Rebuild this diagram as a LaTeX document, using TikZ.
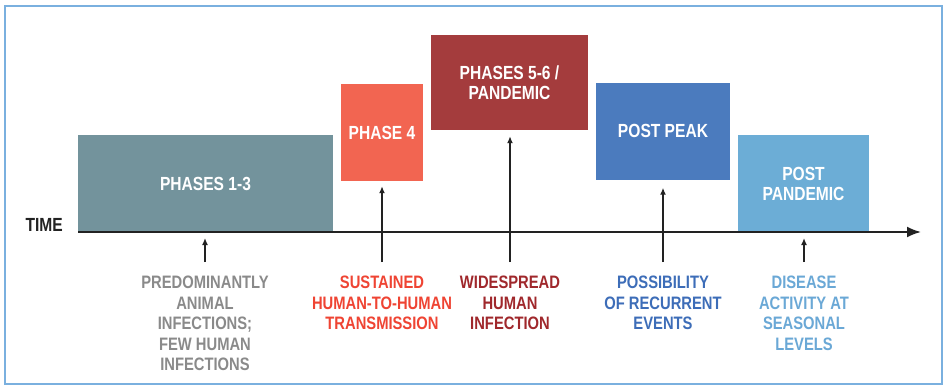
\documentclass[tikz,border=0pt]{standalone}
\usepackage{fontspec}
\setmainfont{Liberation Sans}[FakeStretch=0.82]
\usetikzlibrary{arrows.meta}
\definecolor{cteal}{HTML}{73939C}
\definecolor{cphfour}{HTML}{F26551}
\definecolor{cpand}{HTML}{A43C3D}
\definecolor{cpeak}{HTML}{4B7BBE}
\definecolor{cpost}{HTML}{6CADD6}
\definecolor{lgray}{HTML}{8A8A8A}
\definecolor{lred}{HTML}{EF4433}
\definecolor{ldred}{HTML}{A0282C}
\definecolor{lblue}{HTML}{3D6DB8}
\definecolor{llblue}{HTML}{6AA8D6}
\definecolor{cframe}{HTML}{7AB0DF}
\definecolor{cink}{HTML}{222222}
\begin{document}
\begin{tikzpicture}[x=1pt,y=-1pt,
  phasebox/.style={fill=#1, draw=none, text=white, inner sep=0pt, align=center,
     font=\fontsize{19}{20}\selectfont\bfseries},
  lab/.style={text=#1, anchor=north, inner sep=0pt, align=center,
     font=\fontsize{18}{20.5}\selectfont\bfseries},
  arr/.style={draw=cink, line width=1.8pt, -{Latex[length=7pt,width=6pt]}},
]
\useasboundingbox (0,0) rectangle (945,386);
\fill[white] (0,0) rectangle (945,386);
\draw[cframe, line width=2pt] (5,6) rectangle (942,384);

% boxes
\node[phasebox=cteal, minimum width=255pt, minimum height=97pt] (p13) at (205.5,183.5) {PHASES 1-3};
\node[phasebox=cphfour, minimum width=82pt, minimum height=97pt] (p4) at (382,132.5) {PHASE 4};
\node[phasebox=cpand, minimum width=157pt, minimum height=95pt] (p56) at (509.5,82.5) {PHASES 5-6 /\\PANDEMIC};
\node[phasebox=cpeak, minimum width=134pt, minimum height=97pt] (pk) at (663,131) {POST PEAK};
\node[phasebox=cpost, minimum width=131pt, minimum height=97pt] (pp) at (803.5,183.5) {POST\\PANDEMIC};

% time axis
\node[text=cink, anchor=east, inner sep=0pt, font=\fontsize{19}{20}\selectfont\bfseries] (time) at (63,225) {TIME};
\coordinate (ax0) at (78,232);
\coordinate (ax1) at (921,232);
\draw[cink, line width=2pt, -{Latex[length=14pt,width=11pt]}] (ax0) -- (ax1);

% labels
\node[lab=lgray] (l13) at (205,276) {PREDOMINANTLY\\ANIMAL\\INFECTIONS;\\FEW HUMAN\\INFECTIONS};
\node[lab=lred] (l4) at (382,276) {SUSTAINED\\HUMAN-TO-HUMAN\\TRANSMISSION};
\node[lab=ldred] (l56) at (510,276) {WIDESPREAD\\HUMAN\\INFECTION};
\node[lab=lblue] (lpk) at (663,276) {POSSIBILITY\\OF RECURRENT\\EVENTS};
\node[lab=llblue] (lpp) at (804,276) {DISEASE\\ACTIVITY AT\\SEASONAL\\LEVELS};

% arrows
\coordinate (a13) at (205,262);
\coordinate (t13) at (205,238);
\coordinate (a4) at (382,262);
\coordinate (a56) at (510,262);
\coordinate (apk) at (663,262);
\coordinate (app) at (804,262);
\coordinate (tpp) at (804,238);
\draw[arr] (a13) -- (t13);
\draw[arr, shorten >=5pt] (a4) -- (a4 |- p4.south);
\draw[arr, shorten >=6pt] (a56) -- (a56 |- p56.south);
\draw[arr, shorten >=8pt] (apk) -- (apk |- pk.south);
\draw[arr] (app) -- (tpp);
\end{tikzpicture}
\end{document}
